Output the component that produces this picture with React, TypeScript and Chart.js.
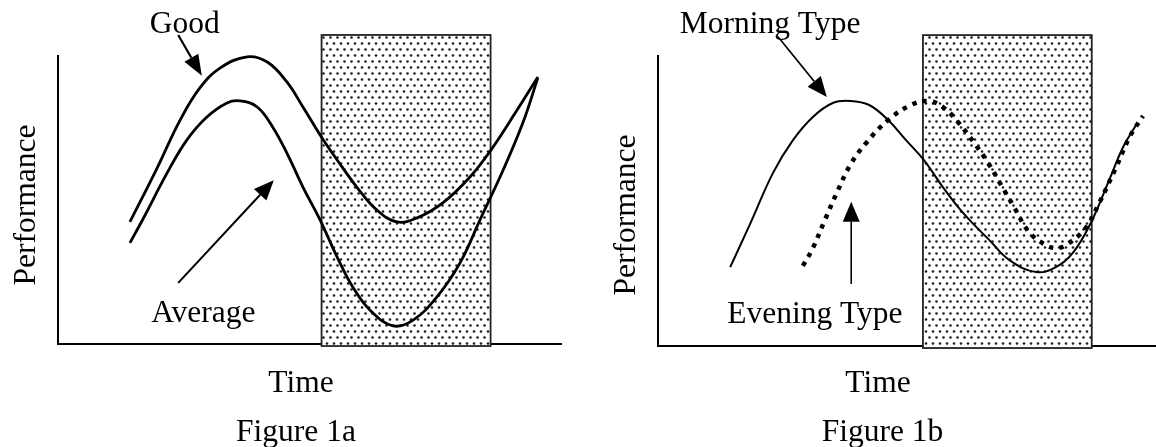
import React, { useEffect, useRef } from 'react';
import { Chart, registerables } from 'chart.js';

Chart.register(...registerables);

// ---------- Figure 1a data (time 0-100, performance 0-100) ----------
const goodTime = [14.3, 19.7, 24.3, 28.2, 32.2, 37.6, 41.6, 45.5, 48.7, 52.5, 55.5, 59.4, 63.4, 67.4, 71.4, 76.5, 81.9, 86.1, 91.3, 95.4];
const goodPerf = [42.4, 61.1, 77.8, 88.9, 95.8, 99.7, 97.9, 91.0, 82.3, 71.5, 63.9, 54.5, 46.5, 42.4, 43.8, 49.0, 58.0, 67.4, 81.3, 92.7];
const averageTime = [14.3, 16.9, 21.7, 25.6, 29.6, 33.6, 36.2, 39.6, 42.7, 45.7, 48.7, 52.1, 55.5, 58.6, 62.0, 66.6, 70.6, 75.3, 79.9, 83.9, 88.5, 92.4, 95.4];
const averagePerf = [35.1, 43.4, 59.4, 70.8, 78.8, 83.7, 84.4, 82.3, 75.3, 65.6, 54.5, 43.1, 30.2, 19.8, 11.8, 6.3, 8.3, 16.3, 28.1, 43.1, 60.4, 76.7, 92.4];
const nightA = [52.4, 86.0, -0.7, 107.3]; // start, end, bottom, top

// ---------- Figure 1b data ----------
const morningTime = [14.5, 18.5, 23.1, 27.1, 31.1, 35.1, 38.6, 42.4, 46.2, 49.8, 53.4, 57.2, 60.4, 63.3, 66.5, 70.5, 75.9, 79.9, 83.3, 86.9, 90.6, 93.4, 96.0];
const morningPerf = [27.2, 42.1, 59.7, 71.0, 79.0, 83.8, 84.5, 83.1, 77.9, 71.0, 64.1, 54.8, 47.6, 42.1, 36.6, 29.7, 25.5, 27.2, 32.1, 42.4, 57.2, 68.6, 76.2];
const eveningTime = [29.1, 31.1, 33.5, 35.9, 38.6, 41.8, 46.2, 50.8, 54.2, 57.2, 60.4, 63.5, 66.3, 68.9, 71.5, 74.5, 77.9, 79.9, 81.9, 85.9, 88.4, 92.0, 94.8, 97.4];
const eveningPerf = [27.6, 33.8, 43.4, 52.8, 62.4, 70.0, 77.9, 83.1, 84.5, 82.4, 76.9, 70.0, 63.1, 55.5, 47.9, 39.3, 34.8, 33.8, 34.8, 40.7, 48.6, 61.7, 72.4, 79.3];
const nightB = [53.2, 87.1, -0.7, 107.2];

const FONT = '31.5px "Liberation Serif", "Times New Roman", serif';

type Arrow = { from: number[]; to: number[]; lw: number; len: number; w: number };
type Label = { text: string; at: number[] };
type Spec = {
  datasets: any[];
  night: number[];
  padding: { left: number; right: number; top: number; bottom: number };
  labels: Label[];
  arrows: Arrow[];
  yTitle: number[]; // dx from chart left (baseline), dy from chart middle
  xTitle: number[]; // dx from chart center, dy from chart bottom (baseline)
  caption: { text: string; d: number[] };
};

const pts = (xs: number[], ys: number[]) => xs.map((x, i) => ({ x, y: ys[i] }));

function dotPattern(ctx: CanvasRenderingContext2D) {
  const tile = document.createElement('canvas');
  tile.width = 7;
  tile.height = 12;
  const t = tile.getContext('2d')!;
  t.fillStyle = '#ffffff';
  t.fillRect(0, 0, 7, 12);
  t.fillStyle = '#1e1e1e';
  [[1.5, 1.5], [5, 7.5]].forEach(([cx, cy]) => {
    t.beginPath();
    t.arc(cx, cy, 1.3, 0, Math.PI * 2);
    t.fill();
  });
  return ctx.createPattern(tile, 'repeat')!;
}

function drawArrow(ctx: CanvasRenderingContext2D, x1: number, y1: number, x2: number, y2: number, a: Arrow) {
  const ang = Math.atan2(y2 - y1, x2 - x1);
  const bx = x2 - Math.cos(ang) * a.len;
  const by = y2 - Math.sin(ang) * a.len;
  ctx.strokeStyle = '#000';
  ctx.lineWidth = a.lw;
  ctx.setLineDash([]);
  ctx.beginPath();
  ctx.moveTo(x1, y1);
  ctx.lineTo(bx, by);
  ctx.stroke();
  const px = -Math.sin(ang) * a.w / 2;
  const py = Math.cos(ang) * a.w / 2;
  ctx.fillStyle = '#000';
  ctx.beginPath();
  ctx.moveTo(x2, y2);
  ctx.lineTo(bx + px, by + py);
  ctx.lineTo(bx - px, by - py);
  ctx.closePath();
  ctx.fill();
}

function makePlugin(spec: Spec) {
  return {
    id: 'figureDecor',
    beforeDatasetsDraw(chart: any) {
      const { ctx, scales } = chart;
      const x = scales.x, y = scales.y;
      const x0 = x.getPixelForValue(spec.night[0]);
      const x1 = x.getPixelForValue(spec.night[1]);
      const yb = y.getPixelForValue(spec.night[2]);
      const yt = y.getPixelForValue(spec.night[3]);
      ctx.save();
      ctx.fillStyle = dotPattern(ctx);
      ctx.fillRect(x0, yt, x1 - x0, yb - yt);
      ctx.strokeStyle = '#222';
      ctx.lineWidth = 1.8;
      ctx.strokeRect(x0, yt, x1 - x0, yb - yt);
      ctx.restore();
    },
    afterDatasetsDraw(chart: any) {
      const { ctx, scales, chartArea: ca } = chart;
      const x = scales.x, y = scales.y;
      ctx.save();
      spec.arrows.forEach((a) => {
        drawArrow(ctx, x.getPixelForValue(a.from[0]), y.getPixelForValue(a.from[1]), x.getPixelForValue(a.to[0]), y.getPixelForValue(a.to[1]), a);
      });
      ctx.font = FONT;
      ctx.fillStyle = '#000';
      ctx.textBaseline = 'alphabetic';
      ctx.textAlign = 'center';
      spec.labels.forEach((l) => {
        ctx.fillText(l.text, x.getPixelForValue(l.at[0]), y.getPixelForValue(l.at[1]));
      });
      const cx = (ca.left + ca.right) / 2;
      ctx.fillText('Time', cx + spec.xTitle[0], ca.bottom + spec.xTitle[1]);
      ctx.fillText(spec.caption.text, cx + spec.caption.d[0], ca.bottom + spec.caption.d[1]);
      ctx.save();
      ctx.translate(ca.left + spec.yTitle[0], (ca.top + ca.bottom) / 2 + spec.yTitle[1]);
      ctx.rotate(-Math.PI / 2);
      ctx.fillText('Performance', 0, 0);
      ctx.restore();
      ctx.restore();
    },
  };
}

const axis = () => ({
  type: 'linear' as const,
  min: 0,
  max: 100,
  grid: { display: false, drawTicks: false },
  ticks: { display: false },
  border: { display: true, color: '#000', width: 2 },
  title: { display: false },
});

const curve = { borderColor: '#000', pointRadius: 0, tension: 0.4, fill: false, clip: false };

const specA: Spec = {
  datasets: [
    { ...curve, label: 'Good', data: pts(goodTime, goodPerf), borderWidth: 2.8 },
    { ...curve, label: 'Average', data: pts(averageTime, averagePerf), borderWidth: 2.8 },
  ],
  night: nightA,
  padding: { left: 58, right: 17, top: 56, bottom: 103 },
  labels: [
    { text: 'Good', at: [25.2, 108.0] },
    { text: 'Average', at: [28.9, 7.6] },
  ],
  arrows: [
    { from: [23.9, 107.3], to: [28.6, 93.1], lw: 2.2, len: 21, w: 16 },
    { from: [23.9, 21.2], to: [42.9, 56.9], lw: 2, len: 20, w: 17 },
  ],
  yTitle: [-23.5, 5],
  xTitle: [-8.5, 48],
  caption: { text: 'Figure 1a', d: [-13.5, 97] },
};

const specB: Spec = {
  datasets: [
    { ...curve, label: 'Morning Type', data: pts(morningTime, morningPerf), borderWidth: 2 },
    { ...curve, label: 'Evening Type', data: pts(eveningTime, eveningPerf), borderWidth: 4.5, borderDash: [4.5, 6], borderCapStyle: 'butt' },
  ],
  night: nightB,
  padding: { left: 80, right: 0, top: 56, bottom: 101 },
  labels: [
    { text: 'Morning Type', at: [22.5, 107.9] },
    { text: 'Evening Type', at: [31.5, 7.9] },
  ],
  arrows: [
    { from: [24.1, 106.6], to: [33.9, 85.9], lw: 1.6, len: 20, w: 17 },
    { from: [38.8, 21.4], to: [38.8, 49.7], lw: 1.6, len: 20, w: 17 },
  ],
  yTitle: [-23, 14],
  xTitle: [-29, 46],
  caption: { text: 'Figure 1b', d: [-24.5, 95] },
};

function Figure({ spec, left, width }: { spec: Spec; left: number; width: number }) {
  const ref = useRef<HTMLCanvasElement>(null);
  useEffect(() => {
    const chart = new Chart(ref.current!, {
      type: 'line',
      data: { datasets: spec.datasets },
      options: {
        animation: false,
        responsive: false,
        maintainAspectRatio: false,
        events: [],
        layout: { padding: spec.padding, autoPadding: false },
        scales: { x: axis(), y: axis() },
        plugins: { legend: { display: false }, tooltip: { enabled: false }, title: { display: false } },
      } as any,
      plugins: [makePlugin(spec)],
    });
    return () => chart.destroy();
  }, []);
  return (
    <canvas
      ref={ref}
      width={width}
      height={447}
      style={{ position: 'absolute', left, top: 0, width, height: 447, display: 'block' }}
    />
  );
}

export default function App() {
  return (
    <div style={{ position: 'absolute', left: 0, top: 0, width: 1156, height: 447, background: '#fff', overflow: 'hidden' }}>
      <Figure spec={specA} left={0} width={578} />
      <Figure spec={specB} left={578} width={578} />
    </div>
  );
}
